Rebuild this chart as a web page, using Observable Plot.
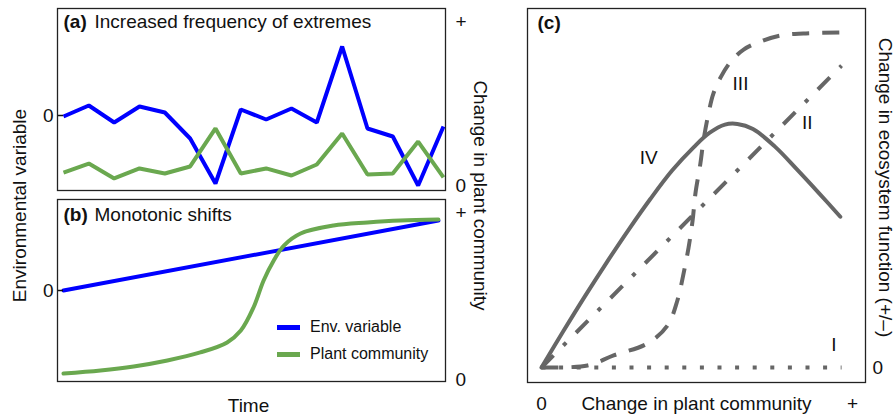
<!DOCTYPE html>
<html>
<head>
<meta charset="utf-8">
<script src="https://cdn.jsdelivr.net/npm/d3@7"></script>
<script src="https://cdn.jsdelivr.net/npm/@observablehq/plot@0.6"></script>
<style>
  html, body { margin: 0; padding: 0; background: #fff; }
  #chart { position: relative; width: 896px; height: 418px; background: #fff; font-family: "Liberation Sans", Arial, Helvetica, sans-serif; }
  #chart svg { position: absolute; left: 0; top: 0; }
  .legend { position: absolute; left: 277px; font-size: 16px; color: #111; }
  .legend .row { position: absolute; left: 0; white-space: nowrap; display: flex; align-items: center; height: 20px; }
  .legend .sw { width: 23px; height: 5px; margin-right: 10px; }
</style>
</head>
<body>
<div id="chart"></div>
<script>
// ---------- Panel (a): Increased frequency of extremes ----------
const timeA  = [0, 1, 2, 3, 4, 5, 6, 7, 8, 9, 10, 11, 12, 13, 14, 15];
const envA   = [-0.1, 1.0, -0.7, 0.9, 0.3, -2.3, -6.8, 0.6, -0.4, 0.7, -0.7, 6.9, -1.3, -2.1, -7.0, -1.1];
const plantA = [0.079, 0.134, 0.043, 0.104, 0.073, 0.116, 0.348, 0.073, 0.104, 0.061, 0.128, 0.317, 0.067, 0.073, 0.268, 0.049];

// ---------- Panel (b): Monotonic shifts ----------
const timeBEnv   = [0, 14.8];
const envB       = [0, 7.0];
const timeBPlant = [0, 1.46, 2.77, 4.1, 5.4, 6.46, 7.0, 7.5, 7.9, 8.3, 8.7, 9.36, 10.66, 12.0, 13.3, 14.8];
const plantB     = [0.036, 0.054, 0.078, 0.114, 0.162, 0.222, 0.293, 0.431, 0.593, 0.713, 0.802, 0.874, 0.922, 0.940, 0.952, 0.958];

// ---------- Panel (c): change in plant community vs ecosystem function ----------
const xI = [0, 0.965];
const yI = [0, 0];
const xII = [0, 0.965];
const yII = [0, 0.901];
const xIII = [0, 0.148, 0.232, 0.341, 0.405, 0.437, 0.457, 0.473, 0.486, 0.495, 0.511, 0.521, 0.537, 0.553, 0.576, 0.608, 0.65, 0.704, 0.768, 0.842, 0.971];
const yIII = [0, 0.006, 0.036, 0.072, 0.125, 0.2, 0.281, 0.358, 0.439, 0.519, 0.609, 0.678, 0.758, 0.818, 0.866, 0.912, 0.949, 0.973, 0.991, 0.997, 1.0];
const xIV = [0, 0.07, 0.14, 0.21, 0.28, 0.35, 0.42, 0.49, 0.54, 0.59, 0.63, 0.68, 0.75, 0.82, 0.89, 0.961];
const yIV = [0, 0.108, 0.213, 0.314, 0.411, 0.503, 0.588, 0.658, 0.700, 0.725, 0.727, 0.712, 0.660, 0.593, 0.523, 0.450];
const curveLabels = ["I", "II", "III", "IV"];
const curveLabelX = [0.94, 0.855, 0.64, 0.345];
const curveLabelY = [0.066, 0.731, 0.848, 0.627];

// Tick labels
const plantTicks = ["0", "+"];
const envTick = "0";
const cXTicks = ["0", "+"];
const cYTick = "0";

// Series names
const legendNames = ["Env. variable", "Plant community"];
const colors = {env: "#0000ff", plant: "#6aa84f", c: "#666666", ink: "#111111"};

const FONT = '"Liberation Sans", Arial, Helvetica, sans-serif';
const W = 896, H = 418;
const baseStyle = {background: "transparent", overflow: "visible", fontFamily: FONT, fontSize: "19px", color: colors.ink};

// Plant community (right axis) expressed on the env (left axis) scale of each panel
const plantToEnvA = p => -7 + 16.4 * p;
const plantToEnvB = p => -8.9 + 16.7 * p;

const rowsA = timeA.map((t, i) => ({t, env: envA[i], plant: plantA[i]}));
const rowsBEnv = timeBEnv.map((t, i) => ({t, env: envB[i]}));
const rowsBPlant = timeBPlant.map((t, i) => ({t, plant: plantB[i]}));

const xDomainAB = [-0.237, 15.08];

const chart = document.getElementById("chart");

// ----- Plot A -----
const plotA = Plot.plot({
  width: W, height: H,
  marginLeft: 57, marginRight: W - 445, marginTop: 8, marginBottom: H - 190,
  style: baseStyle,
  x: {domain: xDomainAB, axis: null},
  y: {domain: [-7.5, 10.7]},
  marks: [
    Plot.line(rowsA, {x: "t", y: "env", stroke: colors.env, strokeWidth: 4, strokeLinejoin: "miter", strokeLinecap: "butt"}),
    Plot.line(rowsA, {x: "t", y: d => plantToEnvA(d.plant), stroke: colors.plant, strokeWidth: 4, strokeLinejoin: "miter", strokeLinecap: "butt"}),
    Plot.axisY({anchor: "left", ticks: [0], tickFormat: () => envTick, tickSize: -6, tickPadding: 10, strokeWidth: 1.5, label: null, fill: colors.ink}),
    Plot.axisY({anchor: "right", ticks: [plantToEnvA(0)], tickFormat: () => plantTicks[0], tickSize: 0, tickPadding: 10, label: null, fill: colors.ink}),
    Plot.axisY({anchor: "right", ticks: [plantToEnvA(1)], tickFormat: () => plantTicks[1], tickSize: 0, tickPadding: 10, label: null, fill: colors.ink}),
    Plot.frame({stroke: "#222", strokeWidth: 1.3}),
    Plot.text(["(a)"], {frameAnchor: "top-left", dx: 6, dy: 13, textAnchor: "start", lineAnchor: "middle", fontWeight: "bold", fill: colors.ink}),
    Plot.text(["Increased frequency of extremes"], {frameAnchor: "top-left", dx: 37, dy: 13, textAnchor: "start", lineAnchor: "middle", fill: colors.ink}),
    Plot.text(["Environmental variable"], {frameAnchor: "left", dx: -38, dy: 106, rotate: -90, textAnchor: "middle", lineAnchor: "middle", fill: colors.ink}),
    Plot.text(["Change in plant community"], {frameAnchor: "right", dx: 35, dy: 96, rotate: 90, textAnchor: "middle", lineAnchor: "middle", fill: colors.ink})
  ]
});

// ----- Plot B -----
const plotB = Plot.plot({
  width: W, height: H,
  marginLeft: 57, marginRight: W - 445, marginTop: 199, marginBottom: H - 381,
  style: baseStyle,
  x: {domain: xDomainAB, axis: null},
  y: {domain: [-9.1, 9.1]},
  marks: [
    Plot.line(rowsBEnv, {x: "t", y: "env", stroke: colors.env, strokeWidth: 4}),
    Plot.line(rowsBPlant, {x: "t", y: d => plantToEnvB(d.plant), stroke: colors.plant, strokeWidth: 4, curve: "catmull-rom"}),
    Plot.axisY({anchor: "left", ticks: [0], tickFormat: () => envTick, tickSize: -6, tickPadding: 10, strokeWidth: 1.5, label: null, fill: colors.ink}),
    Plot.axisY({anchor: "right", ticks: [plantToEnvB(0)], tickFormat: () => plantTicks[0], tickSize: 0, tickPadding: 10, label: null, fill: colors.ink}),
    Plot.axisY({anchor: "right", ticks: [plantToEnvB(1)], tickFormat: () => plantTicks[1], tickSize: 0, tickPadding: 10, label: null, fill: colors.ink}),
    Plot.frame({stroke: "#222", strokeWidth: 1.3}),
    Plot.text(["(b)"], {frameAnchor: "top-left", dx: 6, dy: 15, textAnchor: "start", lineAnchor: "middle", fontWeight: "bold", fill: colors.ink}),
    Plot.text(["Monotonic shifts"], {frameAnchor: "top-left", dx: 37, dy: 15, textAnchor: "start", lineAnchor: "middle", fill: colors.ink}),
    Plot.text(["Time"], {frameAnchor: "bottom", dx: -3, dy: 24, textAnchor: "middle", lineAnchor: "middle", fill: colors.ink})
  ]
});

// ----- Plot C -----
const toPts = (xs, ys) => xs.map((x, i) => ({x, y: ys[i]}));
const labelRows = curveLabels.map((s, i) => ({s, x: curveLabelX[i], y: curveLabelY[i]}));
const plotC = Plot.plot({
  width: W, height: H,
  marginLeft: 527, marginRight: W - 865, marginTop: 8, marginBottom: H - 382,
  style: baseStyle,
  x: {domain: [-0.045, 1.042]},
  y: {domain: [-0.0448, 1.0716]},
  marks: [
    Plot.line(toPts(xI, yI), {x: "x", y: "y", stroke: colors.c, strokeWidth: 4, strokeDasharray: "4,13.6", strokeLinecap: "butt"}),
    Plot.line(toPts(xII, yII), {x: "x", y: "y", stroke: colors.c, strokeWidth: 4, strokeDasharray: "17,14,4,14", strokeLinecap: "butt"}),
    Plot.line(toPts(xIII, yIII), {x: "x", y: "y", stroke: colors.c, strokeWidth: 4, strokeDasharray: "17,13", strokeLinecap: "butt", curve: "catmull-rom"}),
    Plot.line(toPts(xIV, yIV), {x: "x", y: "y", stroke: colors.c, strokeWidth: 4, curve: "catmull-rom"}),
    Plot.text(labelRows, {x: "x", y: "y", text: "s", textAnchor: "middle", lineAnchor: "middle", fill: colors.ink}),
    Plot.axisX({anchor: "bottom", ticks: [0, 1], tickFormat: d => cXTicks[d], tickSize: 0, tickPadding: 14, label: null, fill: colors.ink}),
    Plot.axisY({anchor: "right", ticks: [0], tickFormat: () => cYTick, tickSize: 0, tickPadding: 7, label: null, fill: colors.ink}),
    Plot.frame({stroke: "#222", strokeWidth: 1.3}),
    Plot.text(["(c)"], {frameAnchor: "top-left", dx: 10, dy: 14, textAnchor: "start", lineAnchor: "middle", fontWeight: "bold", fill: colors.ink}),
    Plot.text(["Change in plant community"], {frameAnchor: "bottom", dx: 0, dy: 21, textAnchor: "middle", lineAnchor: "middle", fill: colors.ink}),
    Plot.text(["Change in ecosystem function (+/–)"], {frameAnchor: "right", dx: 20, dy: -8, rotate: 90, textAnchor: "middle", lineAnchor: "middle", fill: colors.ink})
  ]
});

chart.append(plotA, plotB, plotC);

// ----- Legend for panel (b) -----
const legend = document.createElement("div");
legend.className = "legend";
legend.style.top = "0px";
const legendColors = [colors.env, colors.plant];
const legendTops = [317, 344];
legendNames.forEach((name, i) => {
  const row = document.createElement("div");
  row.className = "row";
  row.style.top = legendTops[i] + "px";
  const sw = document.createElement("span");
  sw.className = "sw";
  sw.style.background = legendColors[i];
  const tx = document.createElement("span");
  tx.textContent = name;
  row.append(sw, tx);
  legend.append(row);
});
chart.append(legend);
</script>
</body>
</html>
